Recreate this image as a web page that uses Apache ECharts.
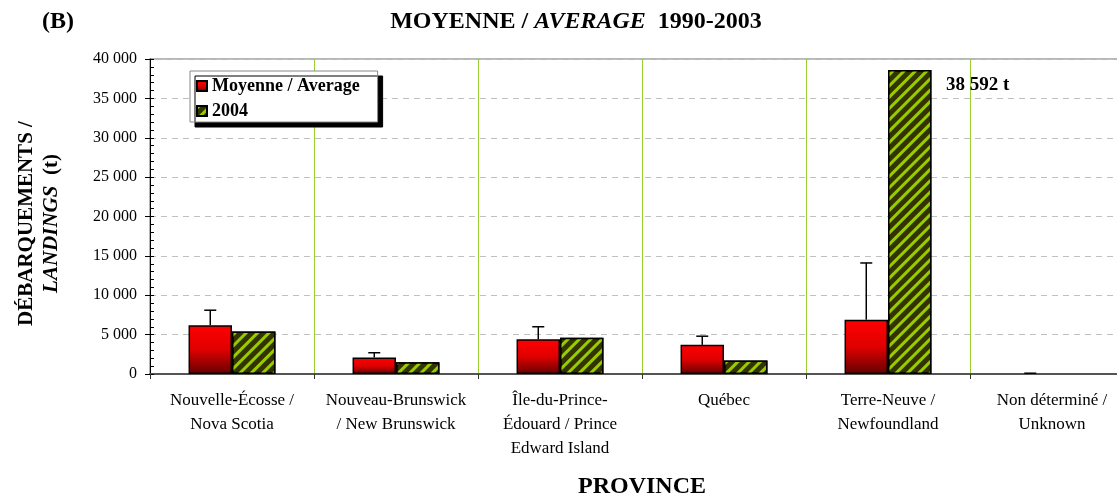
<!DOCTYPE html>
<html>
<head>
<meta charset="utf-8">
<script src="https://cdn.jsdelivr.net/npm/echarts@6/dist/echarts.min.js"></script>
<style>
  html, body { margin: 0; padding: 0; background: #fff; }
  #chart { width: 1117px; height: 499px; }
</style>
</head>
<body>
<div id="chart"></div>
<script>
// provinces
var categories = [
    'Nouvelle-Écosse /\nNova Scotia',
    'Nouveau-Brunswick\n/ New Brunswick',
    'Île-du-Prince-\nÉdouard / Prince\nEdward Island',
    'Québec',
    'Terre-Neuve /\nNewfoundland',
    'Non déterminé /\nUnknown'
];
// moyenne 1990-2003 (t)
var avgValues = [6200, 2100, 4400, 3700, 6900, 0];
// écart-type (barre d'erreur vers le haut)
var stdValues = [1900, 600, 1600, 1100, 7200, 100];
// 2004 (t)
var values2004 = [5400, 1500, 4600, 1700, 38592, 0];

var serif = 'Liberation Serif';
var gap = 0.47;

function fmt(v) {
    return String(v).replace(/\B(?=(\d{3})+(?!\d))/g, ' ');
}

var chart = echarts.init(document.getElementById('chart'));

var errData = [];
for (var i = 0; i < categories.length; i++) {
    errData.push([i, avgValues[i], avgValues[i] + stdValues[i]]);
}

// barres nulles : pas de contour (comme Excel)
var dataAvg = avgValues.map(function (v) {
    return v === 0 ? { value: v, itemStyle: { borderWidth: 0 } } : v;
});
var maxVal = Math.max.apply(null, values2004);
var data2004 = values2004.map(function (v) {
    if (v === 0) return { value: v, itemStyle: { borderWidth: 0 } };
    if (v === maxVal) {
        return {
            value: v,
            label: {
                show: true,
                position: [58, 15],
                align: 'left',
                verticalAlign: 'middle',
                formatter: function (p) { return fmt(p.value) + ' t'; },
                fontFamily: serif, fontWeight: 'bold', fontSize: 19, color: '#000'
            }
        };
    }
    return v;
});

chart.setOption({
    animation: false,
    textStyle: { fontFamily: serif },
    title: [{
        text: '{a|MOYENNE / }{b|AVERAGE}{a|  1990-2003}',
        left: 571, top: 5, textAlign: 'center',
        textStyle: {
            rich: {
                a: { fontFamily: serif, fontWeight: 'bold', fontSize: 24, color: '#000' },
                b: { fontFamily: serif, fontWeight: 'bold', fontStyle: 'italic', fontSize: 24, color: '#000' }
            }
        }
    }, {
        text: '(B)',
        left: 37, top: 5,
        textStyle: { fontFamily: serif, fontWeight: 'bold', fontSize: 24, color: '#000' }
    }],
    legend: {
        data: ['Moyenne / Average', '2004'],
        orient: 'vertical',
        left: 190, top: 71,
        padding: [5, 18, 1, 6],
        itemGap: 5,
        itemWidth: 10, itemHeight: 10,
        icon: 'rect',
        backgroundColor: '#fff',
        borderColor: '#888', borderWidth: 1,
        shadowColor: '#000', shadowBlur: 0, shadowOffsetX: 5, shadowOffsetY: 5,
        textStyle: { fontFamily: serif, fontWeight: 'bold', fontSize: 18, lineHeight: 20, color: '#000' }
    },
    grid: {
        left: 150, right: -17, top: 59, bottom: 125,
        outerBoundsMode: 'none',
        containLabel: false,
        show: true, borderColor: '#a0a0a0', borderWidth: 1.5,
        backgroundColor: 'transparent'
    },
    xAxis: {
        type: 'category',
        data: categories,
        name: 'PROVINCE',
        nameLocation: 'middle',
        nameGap: 101,
        nameTextStyle: { fontFamily: serif, fontWeight: 'bold', fontSize: 24, color: '#000' },
        axisLine: { lineStyle: { color: '#555', width: 2 } },
        axisTick: { show: true, length: 5, lineStyle: { color: '#333' } },
        axisLabel: {
            interval: 0, margin: 15,
            fontFamily: serif, fontSize: 17, color: '#000', lineHeight: 24
        },
        splitLine: { show: true, lineStyle: { color: '#9acd32', width: 1 } }
    },
    yAxis: [{
        type: 'value',
        min: 0, max: 40000, interval: 5000,
        name: '{a|DÉBARQUEMENTS /}\n{b|LANDINGS}{a|  (t)}',
        nameLocation: 'middle',
        nameRotate: 90,
        nameGap: 86,
        nameTextStyle: {
            padding: [0, 14, 0, 0],
            rich: {
                a: { fontFamily: serif, fontWeight: 'bold', fontSize: 21, color: '#000', lineHeight: 25 },
                b: { fontFamily: serif, fontWeight: 'bold', fontStyle: 'italic', fontSize: 21, color: '#000', lineHeight: 25 }
            }
        },
        axisLine: { show: true, lineStyle: { color: '#000', width: 1 } },
        axisTick: { show: true, length: 5, lineStyle: { color: '#000' } },
        axisLabel: {
            margin: 13,
            fontFamily: serif, fontSize: 16, color: '#000',
            formatter: function (v) { return fmt(v); }
        },
        splitLine: { show: true, lineStyle: { color: '#c0c0c0', type: [6, 5], width: 1 } }
    }, {
        // graduations intérieures (majeures + mineures)
        type: 'value',
        position: 'left',
        min: 0, max: 40000, interval: 5000,
        axisLine: { show: false },
        axisTick: { show: true, inside: true, length: 4, lineStyle: { color: '#000' } },
        minorTick: { show: true, splitNumber: 5, length: 4, lineStyle: { color: '#000' } },
        axisLabel: { show: false },
        splitLine: { show: false }
    }],
    series: [{
        name: 'Moyenne / Average',
        type: 'bar',
        data: dataAvg,
        barGap: 0,
        barCategoryGap: (gap * 100) + '%',
        itemStyle: {
            color: new echarts.graphic.LinearGradient(0, 0, 0, 1, [
                { offset: 0, color: '#ff0000' },
                { offset: 0.5, color: '#e00000' },
                { offset: 1, color: '#660000' }
            ]),
            borderColor: '#000', borderWidth: 1.5
        }
    }, {
        name: '2004',
        type: 'bar',
        data: data2004,
        itemStyle: {
            color: '#333300',
            borderColor: '#000', borderWidth: 1.5,
            decal: {
                symbol: 'rect',
                color: '#99cc00',
                dashArrayX: [1, 0],
                dashArrayY: [3, 5],
                rotation: -Math.PI / 4
            }
        }
    }, {
        name: 'err',
        type: 'custom',
        z: 5,
        data: errData,
        encode: { x: 0, y: [1, 2] },
        renderItem: function (params, api) {
            var lo = api.coord([api.value(0), api.value(1)]);
            var hi = api.coord([api.value(0), api.value(2)]);
            var band = api.size([1, 0])[0];
            var cx = lo[0] - band * (1 - gap) / 4;
            var cap = 6;
            return {
                type: 'group',
                children: [{
                    type: 'line',
                    shape: { x1: cx, y1: lo[1], x2: cx, y2: hi[1] },
                    style: { stroke: '#000', lineWidth: 1.5 }
                }, {
                    type: 'line',
                    shape: { x1: cx - cap, y1: hi[1], x2: cx + cap, y2: hi[1] },
                    style: { stroke: '#000', lineWidth: 1.5 }
                }]
            };
        }
    }]
});
</script>
</body>
</html>
